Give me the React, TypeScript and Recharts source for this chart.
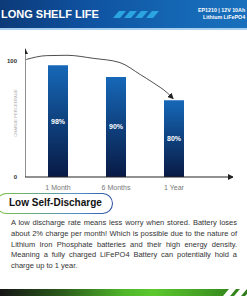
import React from 'react';
import { ComposedChart, Bar, Line, XAxis, YAxis, LabelList } from 'recharts';

const categories = ['1 Month', '6 Months', '1 Year'];
const barHeights = [96, 86, 66];
const barLabels = ['98%', '90%', '80%'];
const yTicks = [0, 100];
// curved arrow from the top of the y axis down to the last bar
const curveX = [0.45, 0.8, 1.15, 1.6, 2.06, 2.41, 2.63, 2.87, 2.97];
const curveY = [101, 104.3, 104.6, 102, 98.3, 88, 81, 72.4, 67.5];
// axis lines with arrow heads, on the hidden numeric axis
const axisXLine = [{ x: 0.43, y: 0 }, { x: 4, y: 0 }];
const axisYLine = [{ x: 0.43, y: 0 }, { x: 0.43, y: 110 }];

const barData = categories.map((name, i) => ({
  name,
  value: barHeights[i],
  label: barLabels[i],
}));
const curveData = curveX.map((x, i) => ({ x, y: curveY[i] }));

const font = '"Liberation Sans", Arial, sans-serif';

function Stripes({ left, top, color, count }: { left: number; top: number; color: string; count: number }) {
  return (
    <div style={{ position: 'absolute', left, top }}>
      {Array.from({ length: count }).map((_, i) => (
        <div
          key={i}
          style={{
            position: 'absolute',
            left: i * 11,
            top: 0,
            width: 7,
            height: 7,
            background: color,
            transform: 'skewX(-40deg)',
          }}
        />
      ))}
    </div>
  );
}

function YTitle(props: any) {
  const vb = props.viewBox || {};
  const x = vb.x + 17;
  const y = vb.y + vb.height / 2;
  return (
    <text x={x} y={y} transform={`rotate(-90 ${x} ${y})`} textAnchor="middle" fontSize={4.2} fill="#aaa" fontFamily={font}>
      CHARGE PERCENTAGE
    </text>
  );
}

export default function App() {
  return (
    <div
      style={{
        position: 'fixed',
        left: 0,
        top: 0,
        width: 247,
        height: 296,
        overflow: 'hidden',
        background: '#fff',
        fontFamily: font,
      }}
    >
      {/* header banner */}
      <div
        style={{
          position: 'absolute',
          left: 0,
          top: 0,
          width: 247,
          height: 28,
          background: 'linear-gradient(90deg, #0c3a78 0%, #0f52a0 35%, #1466b3 70%, #1a70bc 100%)',
          borderBottom: '2px solid #a9d0ee',
        }}
      >
        <div style={{ position: 'absolute', left: 1, top: 8, color: '#fff', fontWeight: 'bold', fontSize: 11, whiteSpace: 'nowrap' }}>
          LONG SHELF LIFE
        </div>
        <Stripes left={116} top={11} color="#2aa5e0" count={4} />
        <div style={{ position: 'absolute', left: 198, top: 7, color: '#fff', fontWeight: 'bold', fontSize: 5.3, whiteSpace: 'nowrap', lineHeight: '6.5px' }}>
          EP1210 | 12V 10Ah
        </div>
        <div style={{ position: 'absolute', left: 203, top: 13.5, color: '#fff', fontWeight: 'bold', fontSize: 5.3, whiteSpace: 'nowrap', lineHeight: '6.5px' }}>
          Lithium LiFePO4
        </div>
      </div>

      <div style={{ position: 'absolute', left: 0, top: 0 }}>
        <ComposedChart width={247} height={200} data={barData} margin={{ top: 49, right: 14, bottom: 8, left: 0 }}>
          <defs>
            <linearGradient id="barFill" x1="0" y1="0" x2="0" y2="1">
              <stop offset="0%" stopColor="#1668b8" />
              <stop offset="100%" stopColor="#081a45" />
            </linearGradient>
            <marker id="arrowHead" markerWidth="6" markerHeight="6" refX="5" refY="3" orient="auto" markerUnits="userSpaceOnUse">
              <path d="M0,0 L6,3 L0,6 z" fill="#222" />
            </marker>
          </defs>
          <XAxis
            dataKey="name"
            type="category"
            padding={{ left: 4, right: 30 }}
            height={15}
            tickLine={false}
            axisLine={false}
            tick={{ fontSize: 7, fill: '#777', fontFamily: font }}
          />
          <XAxis xAxisId="num" dataKey="x" type="number" domain={[0.43, 4]} hide allowDataOverflow />
          <YAxis
            type="number"
            domain={[0, 110]}
            ticks={yTicks}
            width={25}
            tickLine={false}
            axisLine={false}
            tick={{ fontSize: 6, fill: '#333', fontWeight: 'bold', fontFamily: font }}
            label={<YTitle />}
          />
          <Bar dataKey="value" barSize={20} fill="url(#barFill)" isAnimationActive={false}>
            <LabelList dataKey="label" position="center" fill="#fff" fontSize={7} fontWeight="bold" fontFamily={font} />
          </Bar>
          <Line xAxisId="num" data={axisXLine} dataKey="y" type="linear" stroke="#222" strokeWidth={1} dot={false} activeDot={false} markerEnd="url(#arrowHead)" isAnimationActive={false} />
          <Line xAxisId="num" data={axisYLine} dataKey="y" type="linear" stroke="#222" strokeWidth={1} dot={false} activeDot={false} markerEnd="url(#arrowHead)" isAnimationActive={false} />
          <Line
            xAxisId="num"
            data={curveData}
            dataKey="y"
            type="monotone"
            stroke="#222"
            strokeWidth={0.8}
            dot={false}
            activeDot={false}
            markerEnd="url(#arrowHead)"
            isAnimationActive={false}
          />
        </ComposedChart>
      </div>

      {/* section pill */}
      <div
        style={{
          position: 'absolute',
          left: -4,
          top: 193,
          width: 117,
          height: 21,
          borderRadius: 11,
          background: 'linear-gradient(90deg, #7cc242 0%, #4f8fc8 70%, #2a4f9c 100%)',
          padding: 1,
          boxSizing: 'border-box',
        }}
      >
        <div style={{ width: '100%', height: '100%', borderRadius: 10, background: '#fff', position: 'relative' }}>
          <div style={{ position: 'absolute', left: 12, top: 3, fontSize: 10, fontWeight: 'bold', color: '#111', whiteSpace: 'nowrap' }}>
            Low Self-Discharge
          </div>
        </div>
      </div>

      <div
        style={{
          position: 'absolute',
          left: 11,
          top: 218,
          width: 226,
          fontSize: 7.5,
          lineHeight: '10.8px',
          color: '#333',
          textAlign: 'justify',
        }}
      >
        A low discharge rate means less worry when stored. Battery loses about 2% charge per month! Which is possible due to the nature of Lithium Iron Phosphate batteries and their high energy density. Meaning a fully charged LiFePO4 Battery can potentially hold a charge up to 1 year.
      </div>

      {/* bottom bar */}
      <div
        style={{
          position: 'absolute',
          left: 0,
          top: 289,
          width: 247,
          height: 7,
          background: 'linear-gradient(90deg, #151515 0%, #2a5a1a 25%, #4fb52a 50%, #5cc82e 62%, #3f9a22 85%, #2d7a18 100%)',
        }}
      >
        <Stripes left={226} top={0} color="#fff" count={3} />
      </div>
    </div>
  );
}
